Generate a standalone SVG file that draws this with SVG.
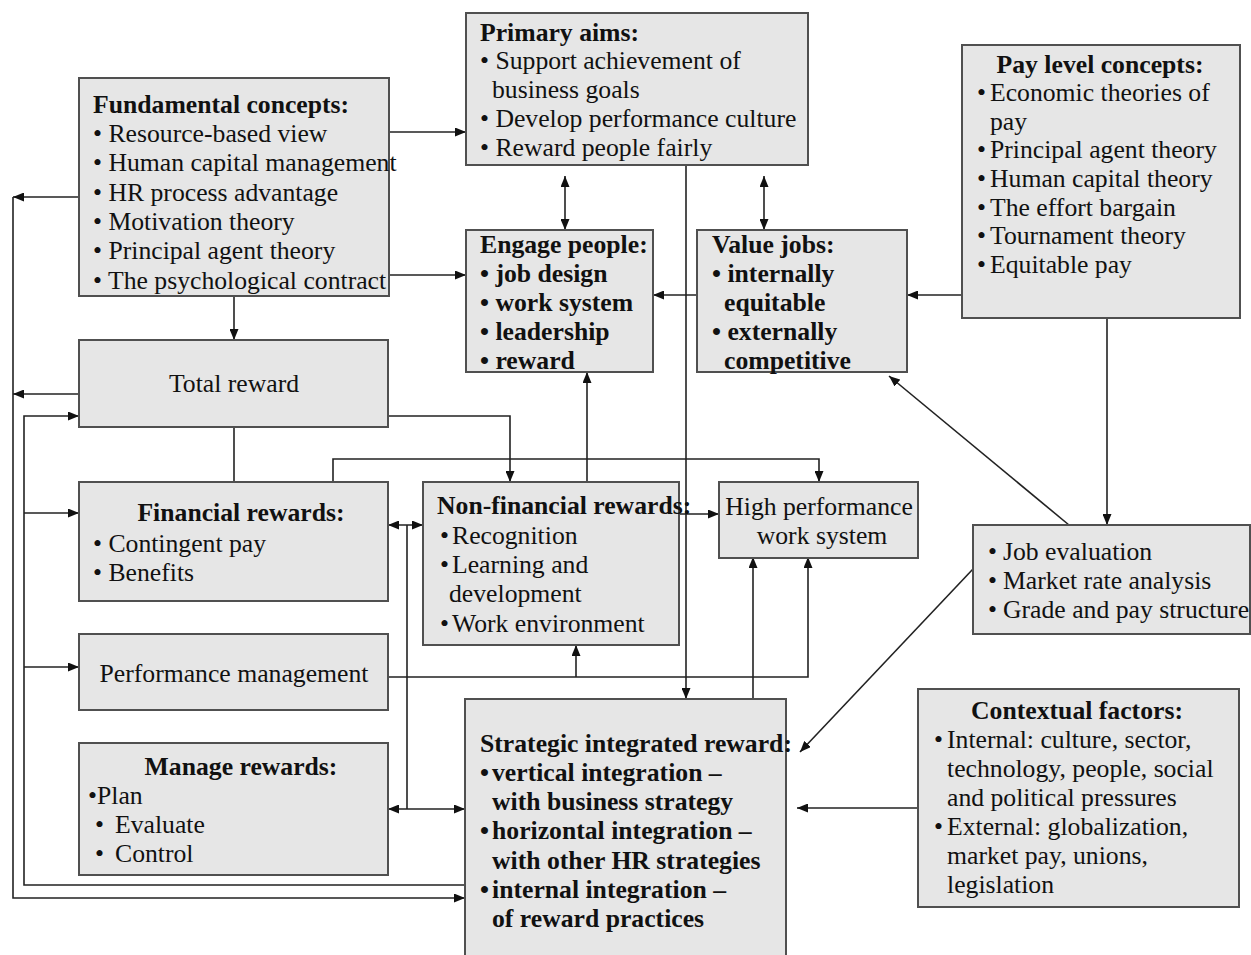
<svg xmlns="http://www.w3.org/2000/svg" width="1251" height="955" viewBox="0 0 1251 955">
  <style>
    .box { fill: #e6e6e6; stroke: #505050; stroke-width: 2; }
    .t { font-family: "Liberation Serif", "Times New Roman", serif; font-size: 25.7px; fill: #111; }
    .b { font-weight: bold; }
    .c { text-anchor: middle; }
    .ln { fill: none; stroke: #222; stroke-width: 1.6; }
  </style>
  <defs>
    <marker id="ah" viewBox="0 0 11 9" refX="11" refY="4.5" markerWidth="11" markerHeight="9" markerUnits="userSpaceOnUse" orient="auto-start-reverse">
      <path d="M0,0 L11,4.5 L0,9 z" fill="#111"/>
    </marker>
  </defs>

  <rect width="1251" height="955" fill="#ffffff"/>

  <!-- connectors -->
  <g id="connectors">
    <path class="ln" d="M389,132 H466" marker-end="url(#ah)"/>
    <path class="ln" d="M389,275 H466" marker-end="url(#ah)"/>
    <path class="ln" d="M234,296 V340" marker-end="url(#ah)"/>
    <path class="ln" d="M79,197 H13" marker-end="url(#ah)"/>
    <path class="ln" d="M79,394 H13" marker-end="url(#ah)"/>
    <path class="ln" d="M13,197 V898 H465" marker-end="url(#ah)"/>
    <path class="ln" d="M465,885 H24 V416 H79" marker-end="url(#ah)"/>
    <path class="ln" d="M24,513 H79" marker-end="url(#ah)"/>
    <path class="ln" d="M24,667 H79" marker-end="url(#ah)"/>
    <path class="ln" d="M234,427 V482"/>
    <path class="ln" d="M388,416 H510 V482" marker-end="url(#ah)"/>
    <path class="ln" d="M333,482 V459 H819 V482" marker-end="url(#ah)"/>
    <path class="ln" d="M388,525 H423" marker-start="url(#ah)" marker-end="url(#ah)"/>
    <path class="ln" d="M407,525 V809"/>
    <path class="ln" d="M388,809 H465" marker-start="url(#ah)" marker-end="url(#ah)"/>
    <path class="ln" d="M565,176 V230" marker-start="url(#ah)" marker-end="url(#ah)"/>
    <path class="ln" d="M764,176 V230" marker-start="url(#ah)" marker-end="url(#ah)"/>
    <path class="ln" d="M686,165 V699" marker-end="url(#ah)"/>
    <path class="ln" d="M697,295 H653" marker-end="url(#ah)"/>
    <path class="ln" d="M962,295 H907" marker-end="url(#ah)"/>
    <path class="ln" d="M1107,318 V525" marker-end="url(#ah)"/>
    <path class="ln" d="M1069,525 L889,376" marker-end="url(#ah)"/>
    <path class="ln" d="M973,569 L800,752" marker-end="url(#ah)"/>
    <path class="ln" d="M918,808 H797" marker-end="url(#ah)"/>
    <path class="ln" d="M587,482 V372" marker-end="url(#ah)"/>
    <path class="ln" d="M679,514 H719" marker-end="url(#ah)"/>
    <path class="ln" d="M388,677 H808 V557" marker-end="url(#ah)"/>
    <path class="ln" d="M576,677 V645" marker-end="url(#ah)"/>
    <path class="ln" d="M753,699 V557" marker-end="url(#ah)"/>
  </g>

  <!-- Fundamental concepts -->
  <g id="fundamental">
    <rect class="box" x="79" y="78" width="310" height="218"/>
    <text class="t b" x="93" y="113">Fundamental concepts:</text>
    <text class="t" x="93" y="142">• Resource-based view</text>
    <text class="t" x="93" y="171">• Human capital management</text>
    <text class="t" x="93" y="201">• HR process advantage</text>
    <text class="t" x="93" y="230">• Motivation theory</text>
    <text class="t" x="93" y="259">• Principal agent theory</text>
    <text class="t" x="93" y="289">• The psychological contract</text>
  </g>

  <!-- Primary aims -->
  <g id="primary-aims">
    <rect class="box" x="466" y="13" width="342" height="152"/>
    <text class="t b" x="480" y="41">Primary aims:</text>
    <text class="t" x="480" y="69">• Support achievement of</text>
    <text class="t" x="492" y="98">business goals</text>
    <text class="t" x="480" y="127">• Develop performance culture</text>
    <text class="t" x="480" y="156">• Reward people fairly</text>
  </g>

  <!-- Pay level concepts -->
  <g id="pay-level">
    <rect class="box" x="962" y="45" width="278" height="273"/>
    <text class="t b c" x="1100" y="73">Pay level concepts:</text>
    <text class="t" x="977" y="101">•<tspan x="990">Economic theories of</tspan></text>
    <text class="t" x="990" y="130">pay</text>
    <text class="t" x="977" y="158">•<tspan x="990">Principal agent theory</tspan></text>
    <text class="t" x="977" y="187">•<tspan x="990">Human capital theory</tspan></text>
    <text class="t" x="977" y="216">•<tspan x="990">The effort bargain</tspan></text>
    <text class="t" x="977" y="244">•<tspan x="990">Tournament theory</tspan></text>
    <text class="t" x="977" y="273">•<tspan x="990">Equitable pay</tspan></text>
  </g>

  <!-- Engage people -->
  <g id="engage-people">
    <rect class="box" x="466" y="230" width="187" height="142"/>
    <text class="t b" x="480" y="253">Engage people:</text>
    <text class="t b" x="480" y="282">• job design</text>
    <text class="t b" x="480" y="311">• work system</text>
    <text class="t b" x="480" y="340">• leadership</text>
    <text class="t b" x="480" y="369">• reward</text>
  </g>

  <!-- Value jobs -->
  <g id="value-jobs">
    <rect class="box" x="697" y="230" width="210" height="142"/>
    <text class="t b" x="712" y="253">Value jobs:</text>
    <text class="t b" x="712" y="282">• internally</text>
    <text class="t b" x="724" y="311">equitable</text>
    <text class="t b" x="712" y="340">• externally</text>
    <text class="t b" x="724" y="369">competitive</text>
  </g>

  <!-- Total reward -->
  <g id="total-reward">
    <rect class="box" x="79" y="340" width="309" height="87"/>
    <text class="t c" x="234" y="392">Total reward</text>
  </g>

  <!-- Financial rewards -->
  <g id="financial-rewards">
    <rect class="box" x="79" y="482" width="309" height="119"/>
    <text class="t b c" x="241" y="521">Financial rewards:</text>
    <text class="t" x="93" y="552">• Contingent pay</text>
    <text class="t" x="93" y="581">• Benefits</text>
  </g>

  <!-- Non-financial rewards -->
  <g id="non-financial-rewards">
    <rect class="box" x="423" y="482" width="256" height="163"/>
    <text class="t b" x="437" y="514">Non-financial rewards:</text>
    <text class="t" x="440" y="544">•<tspan x="452">Recognition</tspan></text>
    <text class="t" x="440" y="573">•<tspan x="452">Learning and</tspan></text>
    <text class="t" x="449" y="602">development</text>
    <text class="t" x="440" y="632">•<tspan x="452">Work environment</tspan></text>
  </g>

  <!-- High performance work system -->
  <g id="high-performance">
    <rect class="box" x="719" y="482" width="199" height="76"/>
    <text class="t c" x="819" y="515">High performance</text>
    <text class="t c" x="822" y="544">work system</text>
  </g>

  <!-- Job evaluation / market rates / grades -->
  <g id="job-evaluation">
    <rect class="box" x="973" y="525" width="277" height="109"/>
    <text class="t" x="988" y="560">•<tspan x="1003">Job evaluation</tspan></text>
    <text class="t" x="988" y="589">•<tspan x="1003">Market rate analysis</tspan></text>
    <text class="t" x="988" y="618">•<tspan x="1003">Grade and pay structure</tspan></text>
  </g>

  <!-- Performance management -->
  <g id="performance-management">
    <rect class="box" x="79" y="634" width="309" height="76"/>
    <text class="t c" x="234" y="682">Performance management</text>
  </g>

  <!-- Manage rewards -->
  <g id="manage-rewards">
    <rect class="box" x="79" y="743" width="309" height="132"/>
    <text class="t b c" x="241" y="775">Manage rewards:</text>
    <text class="t" x="88" y="804">•Plan</text>
    <text class="t" x="95" y="833">•<tspan x="115">Evaluate</tspan></text>
    <text class="t" x="95" y="862">•<tspan x="115">Control</tspan></text>
  </g>

  <!-- Strategic integrated reward -->
  <g id="strategic-reward">
    <rect class="box" x="465" y="699" width="321" height="262"/>
    <text class="t b" x="480" y="752">Strategic integrated reward:</text>
    <text class="t b" x="480" y="781">•<tspan x="492">vertical integration –</tspan></text>
    <text class="t b" x="492" y="810">with business strategy</text>
    <text class="t b" x="480" y="839">•<tspan x="492">horizontal integration –</tspan></text>
    <text class="t b" x="492" y="869">with other HR strategies</text>
    <text class="t b" x="480" y="898">•<tspan x="492">internal integration –</tspan></text>
    <text class="t b" x="492" y="927">of reward practices</text>
  </g>

  <!-- Contextual factors -->
  <g id="contextual-factors">
    <rect class="box" x="918" y="689" width="321" height="218"/>
    <text class="t b c" x="1077" y="719">Contextual factors:</text>
    <text class="t" x="934" y="748">•<tspan x="947">Internal: culture, sector,</tspan></text>
    <text class="t" x="947" y="777">technology, people, social</text>
    <text class="t" x="947" y="806">and political pressures</text>
    <text class="t" x="934" y="835">•<tspan x="947">External: globalization,</tspan></text>
    <text class="t" x="947" y="864">market pay, unions,</text>
    <text class="t" x="947" y="893">legislation</text>
  </g>
</svg>
